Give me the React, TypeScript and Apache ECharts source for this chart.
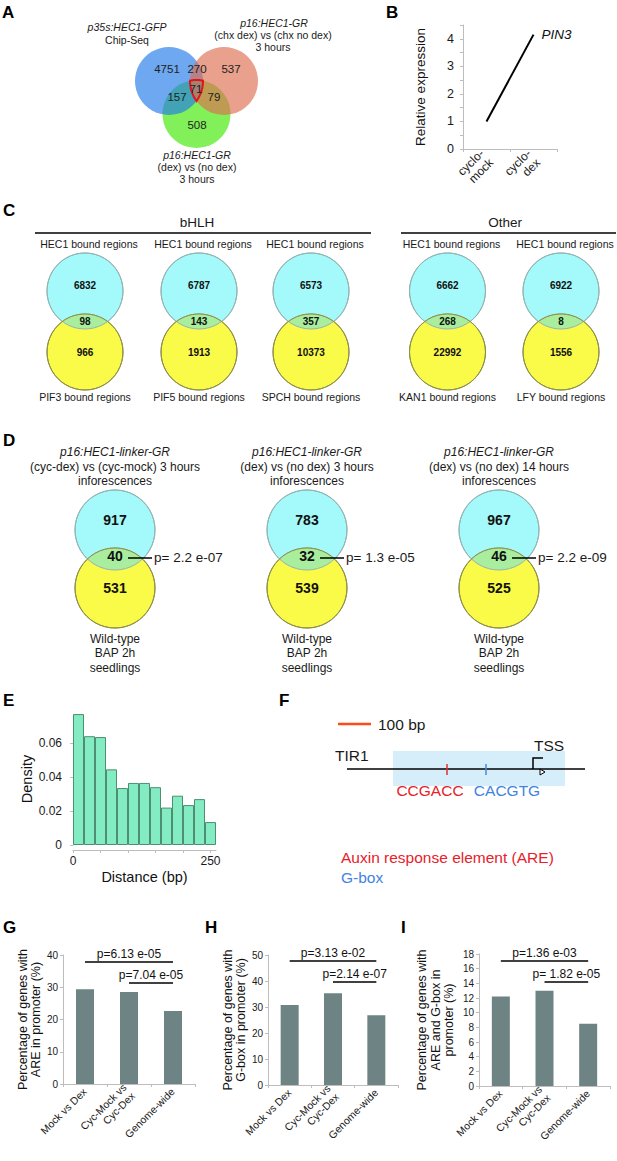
import React, { useEffect, useRef } from "react";
import * as echarts from "echarts";

const FONT = "'Liberation Sans', Arial, Helvetica, sans-serif";

// ---------------- DATA ----------------
// Panel A: three-way Venn
const vennATopLeft = ["p35s:HEC1-GFP", "Chip-Seq"];
const vennATopRight = ["p16:HEC1-GR", "(chx dex) vs (chx no dex)", "3 hours"];
const vennABottom = ["p16:HEC1-GR", "(dex) vs (no dex)", "3 hours"];
// blue only, blue∩red, red only, all three, blue∩green, red∩green, green only
const vennACounts = [4751, 270, 537, 71, 157, 79, 508];

// Panel B
const pin3Conditions = ["cyclo-mock", "cyclo-dex"];
const pin3Expression = [1, 4.15];
const pin3Gene = "PIN3";

// Panel C
const cGroups = ["bHLH", "Other"];
const cFactors = ["PIF3", "PIF5", "SPCH", "KAN1", "LFY"];
const cHec1Only = [6832, 6787, 6573, 6662, 6922];
const cShared = [98, 143, 357, 268, 8];
const cFactorOnly = [966, 1913, 10373, 22992, 1556];

// Panel D
const dConditions = [
  "(cyc-dex) vs (cyc-mock) 3 hours",
  "(dex) vs (no dex) 3 hours",
  "(dex) vs (no dex) 14 hours",
];
const dHec1Only = [917, 783, 967];
const dShared = [40, 32, 46];
const dBapOnly = [531, 539, 525];
const dPValues = ["p= 2.2 e-07", "p= 1.3 e-05", "p= 2.2 e-09"];

// Panel E
const distanceBins = [
  "0-20", "20-40", "40-60", "60-80", "80-100", "100-120", "120-140",
  "140-160", "160-180", "180-200", "200-220", "220-240", "240-260",
];
const densityValues = [
  0.077, 0.064, 0.0635, 0.0445, 0.0335, 0.0365, 0.0365,
  0.034, 0.022, 0.029, 0.0235, 0.027, 0.0135,
];
const distanceTickLabels = [0, 250];

// Panels G, H, I
const promoterGroups = ["Mock vs Dex", "Cyc-Mock vs Cyc-Dex", "Genome-wide"];
const areShare = [29.4, 28.5, 22.6];
const gboxShare = [30.8, 35.3, 26.8];
const areGboxShare = [12.2, 13.0, 8.5];
const areTests = ["p=6.13 e-05", "p=7.04 e-05"];
const gboxTests = ["p=3.13 e-02", "p=2.14 e-07"];
const areGboxTests = ["p=1.36 e-03", "p= 1.82 e-05"];

// ---------------- LAYOUT ----------------
const A_R = 34;
const A_BLUE = [169, 81];
const A_RED = [224, 81];
const A_GREEN = [196.5, 114];
const A_NUM_POS = [[167, 69], [197, 69], [231, 69], [196, 89], [177, 97], [214, 97], [197, 125]];

const C_R = 38;
const C_X = [85, 199, 311, 447.5, 561];
const C_TOP_Y = 291;
const C_BOT_Y = 352;
const D_R = 40;
const D_X = [115, 307, 499];
const D_TOP_Y = 530;
const D_BOT_Y = 588;

const SIG_LEVELS = {
  G: [37.8, 31.3],
  H: [47.7, 39.6],
  I: [17.05, 14.2],
};

// lens shapes for 2-set Venns
const lensPath = (r: number, d: number) => {
  const h = Math.sqrt(r * r - (d * d) / 4);
  return `M ${-h} 0 A ${r} ${r} 0 0 1 ${h} 0 A ${r} ${r} 0 0 1 ${-h} 0 Z`;
};
echarts.graphic.registerShape("lensC", echarts.graphic.extendPath(lensPath(C_R, C_BOT_Y - C_TOP_Y), {}));
echarts.graphic.registerShape("lensD", echarts.graphic.extendPath(lensPath(D_R, D_BOT_Y - D_TOP_Y), {}));

function intersect(p: number[], q: number[], r: number, inside: number[]) {
  const dx = q[0] - p[0], dy = q[1] - p[1];
  const d = Math.hypot(dx, dy);
  const a = d / 2;
  const h = Math.sqrt(r * r - a * a);
  const mx = (p[0] + q[0]) / 2, my = (p[1] + q[1]) / 2;
  const px = -dy / d, py = dx / d;
  const c1 = [mx + h * px, my + h * py];
  const c2 = [mx - h * px, my - h * py];
  const d1 = Math.hypot(c1[0] - inside[0], c1[1] - inside[1]);
  const d2 = Math.hypot(c2[0] - inside[0], c2[1] - inside[1]);
  return d1 < d2 ? c1 : c2;
}

function arcPoints(c: number[], P: number[], Q: number[], n = 10) {
  const a1 = Math.atan2(P[1] - c[1], P[0] - c[0]);
  const a2 = Math.atan2(Q[1] - c[1], Q[0] - c[0]);
  let delta = a2 - a1;
  while (delta > Math.PI) delta -= 2 * Math.PI;
  while (delta < -Math.PI) delta += 2 * Math.PI;
  const r = Math.hypot(P[0] - c[0], P[1] - c[1]);
  const pts: number[][] = [];
  for (let i = 0; i < n; i++) {
    const a = a1 + (delta * i) / n;
    pts.push([c[0] + r * Math.cos(a), c[1] + r * Math.sin(a)]);
  }
  return pts;
}

function buildGraphics() {
  const g: any[] = [];
  const T = (text: string, x: number, y: number, size: number, o: any = {}) =>
    g.push({
      type: "text",
      x,
      y,
      silent: true,
      z: 20,
      style: {
        text,
        fill: o.color || "#1a1a1a",
        font: `${o.italic ? "italic " : ""}${o.bold ? "bold " : ""}${size}px ${FONT}`,
        textAlign: o.align || "center",
        align: o.align || "center",
        textVerticalAlign: o.valign || "middle",
        verticalAlign: o.valign || "middle",
      },
    });
  const C = (cx: number, cy: number, r: number, style: any, z = 5) =>
    g.push({ type: "circle", silent: true, z, shape: { cx, cy, r }, style });
  const Ln = (x1: number, y1: number, x2: number, y2: number, stroke: string, lineWidth: number, z = 10) =>
    g.push({ type: "line", silent: true, z, shape: { x1, y1, x2, y2 }, style: { stroke, lineWidth } });

  // panel letters
  const letters: [string, number, number][] = [
    ["A", 2, 4], ["B", 386, 4], ["C", 3, 202], ["D", 3, 432], ["E", 3, 692],
    ["F", 279, 692], ["G", 3, 919], ["H", 205, 919], ["I", 401, 919],
  ];
  letters.forEach(([t, x, y]) => T(t, x, y, 17, { bold: true, align: "left", valign: "top", color: "#000" }));

  // ---- Panel A ----
  C(A_GREEN[0], A_GREEN[1], A_R, { fill: "rgba(63,232,0,0.65)" }, 5);
  C(A_BLUE[0], A_BLUE[1], A_R, { fill: "rgba(32,121,232,0.65)" }, 6);
  C(A_RED[0], A_RED[1], A_R, { fill: "rgba(221,109,78,0.65)" }, 7);
  const vBG = intersect(A_BLUE, A_GREEN, A_R, A_RED);
  const vBR = intersect(A_BLUE, A_RED, A_R, A_GREEN);
  const vRG = intersect(A_RED, A_GREEN, A_R, A_BLUE);
  const tri = [
    ...arcPoints(A_BLUE, vBG, vBR),
    ...arcPoints(A_RED, vBR, vRG),
    ...arcPoints(A_GREEN, vRG, vBG),
  ];
  g.push({ type: "polygon", silent: true, z: 9, shape: { points: tri }, style: { fill: "none", stroke: "#e0141a", lineWidth: 2 } });
  vennACounts.forEach((v, i) => T(String(v), A_NUM_POS[i][0], A_NUM_POS[i][1], 11.5, { color: "#222" }));
  T(vennATopLeft[0], 127, 27, 10.5, { italic: true });
  T(vennATopLeft[1], 127, 40, 10.5);
  T(vennATopRight[0], 274, 23, 10.5, { italic: true });
  T(vennATopRight[1], 273, 35, 10.5);
  T(vennATopRight[2], 273, 47, 10.5);
  T(vennABottom[0], 197, 155, 10.5, { italic: true });
  T(vennABottom[1], 197, 167, 10.5);
  T(vennABottom[2], 197, 179, 10.5);

  // ---- Panel C ----
  T(cGroups[0], 197, 222, 13.5);
  Ln(35, 233, 371, 233, "#000", 1.5);
  T(cGroups[1], 505, 222, 13.5);
  Ln(401, 233, 616, 233, "#000", 1.5);
  C_X.forEach((x, i) => {
    T("HEC1 bound regions", x + 4, 244, 10.5);
    C(x, C_TOP_Y, C_R, { fill: "#a4fafa", stroke: "#93b4b4", lineWidth: 1 }, 5);
    C(x, C_BOT_Y, C_R, { fill: "#fafa48", stroke: "#8f8f48", lineWidth: 1 }, 6);
    g.push({ type: "lensC", silent: true, z: 7, x, y: (C_TOP_Y + C_BOT_Y) / 2, style: { fill: "#a8ee9e" } });
    C(x, C_TOP_Y, C_R, { fill: "none", stroke: "#93b4b4", lineWidth: 1 }, 8);
    C(x, C_BOT_Y, C_R, { fill: "none", stroke: "#8f8f48", lineWidth: 1 }, 8);
    T(String(cHec1Only[i]), x, 285, 10, { bold: true, color: "#111" });
    T(String(cShared[i]), x, 321, 10, { bold: true, color: "#111" });
    T(String(cFactorOnly[i]), x, 352, 10, { bold: true, color: "#111" });
    T(`${cFactors[i]} bound regions`, x, 397, 10.5);
  });

  // ---- Panel D ----
  D_X.forEach((x, i) => {
    T("p16:HEC1-linker-GR", x, 452, 12, { italic: true });
    T(dConditions[i], x, 467, 12);
    T("inforescences", x, 481, 12);
    C(x, D_TOP_Y, D_R, { fill: "#a4fafa", stroke: "#93b4b4", lineWidth: 1 }, 5);
    C(x, D_BOT_Y, D_R, { fill: "#fafa48", stroke: "#8f8f48", lineWidth: 1 }, 6);
    g.push({ type: "lensD", silent: true, z: 7, x, y: (D_TOP_Y + D_BOT_Y) / 2, style: { fill: "#a8ee9e" } });
    C(x, D_TOP_Y, D_R, { fill: "none", stroke: "#93b4b4", lineWidth: 1 }, 8);
    C(x, D_BOT_Y, D_R, { fill: "none", stroke: "#8f8f48", lineWidth: 1 }, 8);
    T(String(dHec1Only[i]), x, 520, 14, { bold: true, color: "#111" });
    T(String(dShared[i]), x, 556, 14, { bold: true, color: "#111" });
    T(String(dBapOnly[i]), x, 588, 14, { bold: true, color: "#111" });
    Ln(x + 13, 558, x + 37, 558, "#000", 1.5);
    T(dPValues[i], x + 39, 557, 13.5, { align: "left" });
    T("Wild-type", x, 639, 12);
    T("BAP 2h", x, 653, 12);
    T("seedlings", x, 668, 12);
  });

  // ---- Panel F ----
  Ln(338, 724, 371, 724, "#ff4a1a", 2.5);
  T("100 bp", 378, 724, 15.5, { align: "left" });
  T("TIR1", 335, 755, 15.5, { align: "left" });
  g.push({ type: "rect", silent: true, z: 4, shape: { x: 393, y: 751, width: 172, height: 35 }, style: { fill: "#d6eef9" } });
  Ln(347, 769, 585, 769, "#000", 1.5);
  Ln(447, 764, 447, 775, "#e03030", 1.5);
  Ln(486, 764, 486, 775, "#4a8ad8", 1.5);
  g.push({ type: "polyline", silent: true, z: 10, shape: { points: [[533, 769], [533, 758], [543, 758]] }, style: { stroke: "#000", lineWidth: 1.5, fill: "none" } });
  g.push({ type: "polygon", silent: true, z: 10, shape: { points: [[540, 769], [540, 775], [545, 772]] }, style: { stroke: "#000", lineWidth: 1, fill: "#fff" } });
  T("TSS", 549, 745, 15.5);
  T("CCGACC", 430, 790, 15.5, { color: "#e8202a" });
  T("CACGTG", 507, 790, 15.5, { color: "#3f83e0" });
  T("Auxin response element (ARE)", 341, 857, 15.5, { align: "left", color: "#e8202a" });
  T("G-box", 341, 877, 15.5, { align: "left", color: "#3f83e0" });

  return g;
}

const axisGrey = "#bdbdbd";
const labelColor = "#1a1a1a";

function sigMarks(labels: string[], levels: number[]) {
  return {
    symbol: ["none", "none"],
    silent: true,
    lineStyle: { color: "#000", width: 1.6, type: "solid" },
    label: { show: true, position: "insideMiddleTop", distance: 2, color: "#111", fontSize: 12, fontFamily: FONT },
    emphasis: { disabled: true },
    data: [
      [{ coord: [0, levels[0]], label: { formatter: labels[0] } }, { coord: [2, levels[0]] }],
      [{ coord: [1, levels[1]], label: { formatter: labels[1] } }, { coord: [2, levels[1]] }],
    ],
  };
}

function promoterX(gridIndex: number) {
  return {
    type: "category",
    gridIndex,
    data: promoterGroups,
    axisLine: { lineStyle: { color: axisGrey } },
    axisTick: { show: true, length: 3, lineStyle: { color: axisGrey } },
    axisLabel: {
      rotate: 45,
      interval: 0,
      fontSize: 10.5,
      color: labelColor,
      fontFamily: FONT,
      margin: 6,
      lineHeight: 12,
      formatter: (v: string) => v.replace(" vs Cyc", " vs\nCyc"),
    },
  };
}

function promoterY(gridIndex: number, max: number, interval: number, name: string, nameGap: number) {
  return {
    type: "value",
    gridIndex,
    min: 0,
    max,
    interval,
    axisLine: { show: true, lineStyle: { color: axisGrey } },
    axisTick: { show: true, length: 3, lineStyle: { color: axisGrey } },
    splitLine: { show: false },
    axisLabel: { fontSize: 10, color: labelColor, fontFamily: FONT, margin: 5 },
    name,
    nameLocation: "middle",
    nameGap,
    nameTextStyle: { fontSize: 12.5, lineHeight: 13.5, color: "#111", fontFamily: FONT },
  };
}

function buildOption() {
  const barColor = "#6e8383";
  return {
    animation: false,
    backgroundColor: "#fff",
    textStyle: { fontFamily: FONT },
    grid: [
      { left: 463, top: 25, width: 94, height: 124 },
      { left: 73, top: 743, width: 143, height: 102 },
      { left: 63, top: 955, width: 132, height: 129 },
      { left: 268, top: 955, width: 130, height: 130 },
      { left: 479, top: 954, width: 131, height: 132 },
    ],
    xAxis: [
      {
        type: "category",
        gridIndex: 0,
        data: pin3Conditions,
        boundaryGap: true,
        axisLine: { lineStyle: { color: axisGrey } },
        axisTick: { show: true, length: 3, lineStyle: { color: axisGrey } },
        axisLabel: {
          rotate: 45,
          fontSize: 12,
          color: labelColor,
          fontFamily: FONT,
          margin: 7,
          lineHeight: 13,
          formatter: (v: string) => v.replace("-", "-\n"),
        },
      },
      { type: "category", gridIndex: 1, data: distanceBins, position: "bottom", show: false },
      {
        type: "value",
        gridIndex: 1,
        position: "bottom",
        min: 0,
        max: 260,
        interval: 50,
        offset: 5,
        axisLine: { show: true, lineStyle: { color: axisGrey } },
        axisTick: { show: true, length: 3, lineStyle: { color: axisGrey } },
        splitLine: { show: false },
        axisLabel: {
          fontSize: 12,
          color: labelColor,
          fontFamily: FONT,
          margin: 5,
          showMaxLabel: false,
          formatter: (v: number) => (distanceTickLabels.indexOf(v) >= 0 ? String(v) : ""),
        },
        name: "Distance (bp)",
        nameLocation: "middle",
        nameGap: 19,
        nameTextStyle: { fontSize: 14.5, color: "#111", fontFamily: FONT, verticalAlign: "top" },
      },
      promoterX(2),
      promoterX(3),
      promoterX(4),
    ],
    yAxis: [
      {
        type: "value",
        gridIndex: 0,
        min: 0,
        max: 4.5,
        interval: 1,
        axisLine: { show: true, lineStyle: { color: axisGrey } },
        axisTick: { show: true, length: 3, lineStyle: { color: axisGrey } },
        minorTick: { show: true, splitNumber: 2, length: 3, lineStyle: { color: axisGrey } },
        splitLine: { show: false },
        axisLabel: {
          fontSize: 12.5,
          color: labelColor,
          fontFamily: FONT,
          margin: 9,
          formatter: (v: number) => (Number.isInteger(v) ? String(v) : ""),
        },
        name: "Relative expression",
        nameLocation: "middle",
        nameGap: 36,
        nameTextStyle: { fontSize: 13.5, color: "#111", fontFamily: FONT },
      },
      {
        type: "value",
        gridIndex: 1,
        min: 0,
        max: 0.06,
        interval: 0.02,
        offset: 6,
        axisLine: { show: true, lineStyle: { color: axisGrey } },
        axisTick: { show: true, length: 3, lineStyle: { color: axisGrey } },
        splitLine: { show: false },
        axisLabel: {
          fontSize: 12,
          color: labelColor,
          fontFamily: FONT,
          margin: 5,
          formatter: (v: number) => (v === 0 ? "0" : v.toFixed(2)),
        },
        name: "Density",
        nameLocation: "middle",
        nameGap: 33,
        nameTextStyle: { fontSize: 14.5, color: "#111", fontFamily: FONT, padding: [0, 0, 0, 30] },
      },
      promoterY(2, 40, 10, "Percentage of genes with\nARE in promoter (%)", 20),
      promoterY(3, 50, 10, "Percentage of genes with\nG-box in promoter (%)", 20),
      promoterY(4, 18, 2, "Percentage of genes with\nARE and G-box in\npromoter (%)", 23),
    ],
    series: [
      {
        type: "line",
        xAxisIndex: 0,
        yAxisIndex: 0,
        data: pin3Expression,
        showSymbol: false,
        lineStyle: { color: "#000", width: 2 },
        endLabel: { show: true, formatter: pin3Gene, fontStyle: "italic", fontSize: 13.5, color: "#111", distance: 8 },
      },
      {
        type: "bar",
        xAxisIndex: 1,
        yAxisIndex: 1,
        data: densityValues,
        barCategoryGap: "0%",
        clip: false,
        itemStyle: { color: "#83ecc3", borderColor: "#4d8f70", borderWidth: 1 },
      },
      {
        type: "bar",
        xAxisIndex: 3,
        yAxisIndex: 2,
        data: areShare,
        barWidth: 18,
        itemStyle: { color: barColor },
        markLine: sigMarks(areTests, SIG_LEVELS.G),
      },
      {
        type: "bar",
        xAxisIndex: 4,
        yAxisIndex: 3,
        data: gboxShare,
        barWidth: 18,
        itemStyle: { color: barColor },
        markLine: sigMarks(gboxTests, SIG_LEVELS.H),
      },
      {
        type: "bar",
        xAxisIndex: 5,
        yAxisIndex: 4,
        data: areGboxShare,
        barWidth: 18,
        itemStyle: { color: barColor },
        markLine: sigMarks(areGboxTests, SIG_LEVELS.I),
      },
    ],
    graphic: { elements: buildGraphics() },
  };
}

export default function App() {
  const ref = useRef<HTMLDivElement>(null);
  useEffect(() => {
    if (!ref.current) return;
    const chart = echarts.init(ref.current, undefined, { renderer: "svg" });
    chart.setOption(buildOption() as any);
    return () => chart.dispose();
  }, []);
  return (
    <div
      ref={ref}
      style={{ position: "absolute", left: 0, top: 0, width: 617, height: 1161, background: "#fff" }}
    />
  );
}
